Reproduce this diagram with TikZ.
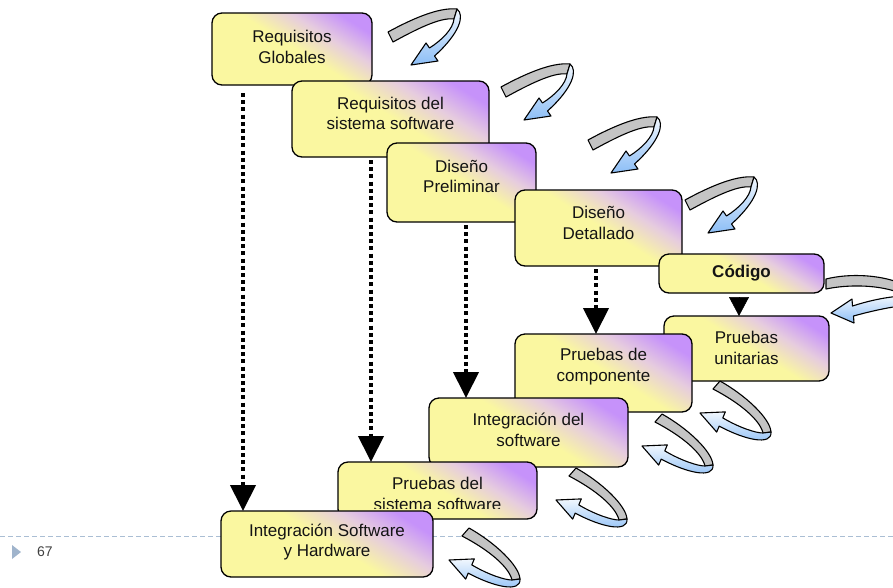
\documentclass[tikz,border=0pt]{standalone}
\usepackage{fontspec}
\setmainfont{Liberation Sans}
\usetikzlibrary{arrows.meta,calc}

\definecolor{boxyellow}{RGB}{250,247,160}
\definecolor{boxmid}{RGB}{230,204,222}
\definecolor{boxpurple}{RGB}{198,146,250}
\definecolor{ribgray}{RGB}{196,196,196}
\definecolor{ribblue}{RGB}{140,190,246}
\definecolor{rulecol}{RGB}{170,190,212}
\definecolor{markcol}{RGB}{160,180,204}
\definecolor{txt}{RGB}{20,20,20}
\definecolor{pagenum}{RGB}{64,64,64}

% yellow body fading into violet towards one corner
\pgfdeclarehorizontalshading{stagefill}{100bp}{color(0bp)=(boxyellow); color(25bp)=(boxyellow); color(51bp)=(boxyellow); color(64bp)=(boxmid); color(76bp)=(boxpurple); color(100bp)=(boxpurple)}

\tikzset{
  ribedge/.style={draw=black, line width=1.1, line join=round},
  ribfill/.style={top color=ribblue!12, middle color=ribblue!70, bottom color=ribblue},
  % twisted feedback arrow that loops over the top
  pics/upribbon/.style={code={
    \path[ribedge, fill=ribgray] (-2,-5) .. controls (20,-17) and (48,-30) .. (67,-28)
      -- (64,-18) .. controls (50,-20) and (25,-7) .. (3,5) -- cycle;
    \path[ribedge, ribfill] (67,-28) .. controls (75,-22) and (70,-4) .. (44.5,19)
      -- (48,24) -- (21,28) -- (36,6) -- (39.5,11) .. controls (52,3) and (63,-8) .. (64,-18) -- cycle;
  }},
  % twisted feedback arrow that loops underneath
  pics/downribbon/.style={code={
    \path[ribedge, fill=ribgray] (-3,4) .. controls (24,18) and (44,35) .. (47,48)
      -- (55,47) .. controls (54,33) and (29,10) .. (4,-4) -- cycle;
    \path[ribedge, ribfill] (55,47) .. controls (56,61) and (29,55) .. (3.2,41.1)
      -- (0.7,47.1) -- (-16,28) -- (9.3,26.9) -- (6.8,32.9) .. controls (24,43) and (40,48) .. (47,48) -- cycle;
  }},
}

\begin{document}
\begin{tikzpicture}[x=1pt,y=-1pt,
  stagebox/.style={draw=black, line width=1.3, rounded corners=10, shade, shading=stagefill,
    shading angle=58, inner sep=0, outer sep=0},
  lbl/.style={align=center, text=txt, font=\fontsize{17}{20.5}\selectfont, inner sep=0},
  dotarrow/.style={line width=4, dash pattern=on 4 off 3.2, -{Triangle[width=25,length=26]}},
]
\clip (0,0) rectangle (893,587);

% slide footer
\draw[rulecol, line width=1, dash pattern=on 5 off 3] (0,536) -- (893,536);
\fill[markcol] (12,545) -- (21,552) -- (12,559) -- cycle;
\node[text=pagenum, font=\fontsize{14}{16}\selectfont, inner sep=0] (pg) at (45,552) {67};

% stages, later ones overlapping earlier ones
\node[stagebox, minimum width=160, minimum height=72] (b1) at (292,49) {};
\node[lbl] (t1) at (292,47) {Requisitos\\Globales};
\node[stagebox, minimum width=197, minimum height=76] (b2) at (390.5,119) {};
\node[lbl] (t2) at (390.5,113.5) {Requisitos del\\sistema software};
\node[stagebox, minimum width=149, minimum height=79] (b3) at (461.5,182.5) {};
\node[lbl] (t3) at (461.5,176.5) {Diseño\\Preliminar};
\node[stagebox, minimum width=167, minimum height=76] (b4) at (598.5,228) {};
\node[lbl] (t4) at (598.5,223) {Diseño\\Detallado};
\node[stagebox, minimum width=165, minimum height=39] (b5) at (741.5,273.5) {};
\node[lbl, font=\fontsize{17}{20.5}\selectfont\bfseries] (t5) at (741.5,273) {Código};
\node[stagebox, minimum width=165, minimum height=65] (b6) at (746.5,348.5) {};
\node[lbl] (t6) at (746.5,348) {Pruebas\\unitarias};
\node[stagebox, minimum width=177, minimum height=78] (b7) at (603.5,373) {};
\node[lbl] (t7) at (603.5,366.5) {Pruebas de\\componente};
\node[stagebox, minimum width=199, minimum height=69] (b8) at (528.5,432.5) {};
\node[lbl] (t8) at (528.5,430) {Integración del\\software};
\node[stagebox, minimum width=199, minimum height=57] (b9) at (437.5,490.5) {};
\begin{scope}
  \clip (338,462) rectangle (537,508.5);
  \node[lbl] (t9) at (437.5,494) {Pruebas del\\sistema software};
\end{scope}
\node[stagebox, minimum width=212, minimum height=66] (b10) at (327,544) {};
\node[lbl] (t10) at (327,542) {Integración Software\\y Hardware};

% verification links
\draw[dotarrow, shorten <=8] ($(b1.south west)+(31,0)$) -- ($(b10.north west)+(22,0)$);
\draw[dotarrow, shorten <=3] ($(b2.south west)+(79,0)$) -- ($(b9.north west)+(33,0)$);
\draw[dotarrow, shorten <=3] ($(b3.south west)+(79,0)$) -- ($(b8.north west)+(37,0)$);
\draw[dotarrow, shorten <=3] ($(b4.south west)+(81,0)$) -- ($(b7.north west)+(81,0)$);
\draw[line width=0.5, shorten <=4, -{Triangle[width=20,length=19]}] ($(b5.south west)+(80,0)$) -- ($(b6.north west)+(75,0)$);

% feedback arrows between consecutive stages
\pic at (390,37) {upribbon};
\pic at (503,92) {upribbon};
\pic at (590,145) {upribbon};
\pic at (687,205) {upribbon};
\path[ribedge, fill=ribgray] (826,279) .. controls (850,273) and (880,275) .. (900,283)
  -- (900,293) .. controls (880,285) and (850,284) .. (826,289) -- cycle;
\path[ribedge, ribfill] (900,296) .. controls (880,298) and (865,302) .. (852.5,306)
  -- (852,299) -- (831,313) -- (854,323) -- (853.5,316) .. controls (868,312) and (885,308) .. (900,306) -- cycle;
\pic at (716,385) {downribbon};
\pic at (658,418) {downribbon};
\pic at (572,472) {downribbon};
\pic at (465,532) {downribbon};
\end{tikzpicture}
\end{document}
